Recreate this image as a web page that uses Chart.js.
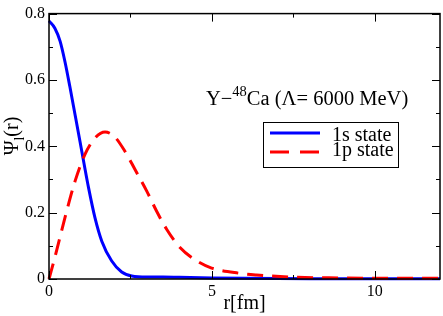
<!DOCTYPE html>
<html>
<head>
<meta charset="utf-8">
<script src="https://cdn.jsdelivr.net/npm/chart.js@4.4.0/dist/chart.umd.min.js"></script>
<style>
  html, body { margin: 0; padding: 0; background: #fff; }
  #wrap { width: 443px; height: 316px; }
</style>
</head>
<body>
<div id="wrap"><canvas id="chart" width="443" height="316"></canvas></div>
<script>
// radius values (fm) and wave functions
const r1s = [0, 0.18, 0.34, 0.49, 0.64, 0.80, 0.95, 1.08, 1.21, 1.41, 1.62, 1.92, 2.23, 2.54, 3.0, 3.5, 4.0, 5, 6, 8, 10, 12];
const psi1s = [0.778, 0.756, 0.717, 0.655, 0.58, 0.495, 0.415, 0.345, 0.277, 0.185, 0.114, 0.055, 0.021, 0.009, 0.006, 0.006, 0.005, 0.003, 0.002, 0.001, 0.001, 0.001];

const r1p = [0, 0.18, 0.49, 0.80, 1.10, 1.41, 1.72, 2.02, 2.33, 2.64, 3.0, 3.30, 3.61, 4.02, 4.53, 4.99, 5.86, 6.37, 7.39, 8.9, 10, 12];
const psi1p = [0, 0.065, 0.185, 0.295, 0.375, 0.425, 0.443, 0.428, 0.385, 0.330, 0.265, 0.205, 0.150, 0.095, 0.055, 0.033, 0.017, 0.012, 0.006, 0.003, 0.002, 0.002];

const xMajor = [0, 5, 10];
const xMinor = [2.5, 7.5];
const yMajor = [0, 0.2, 0.4, 0.6, 0.8];
const yMinor = [0.1, 0.3, 0.5, 0.7];

const SERIF = "'Liberation Serif', 'DejaVu Serif', serif";

function toPoints(xs, ys) {
  return xs.map((x, i) => ({ x: x, y: ys[i] }));
}

// frame, inward ticks, y title, annotation and legend
const decorations = {
  id: "decorations",
  afterDatasetsDraw(chart) {
    const ctx = chart.ctx;
    const a = chart.chartArea;
    const xs = chart.scales.x, ys = chart.scales.y;
    ctx.save();
    ctx.strokeStyle = "#000";
    ctx.lineWidth = 1.5;
    ctx.strokeRect(a.left, a.top, a.right - a.left, a.bottom - a.top);

    ctx.lineWidth = 1;
    ctx.beginPath();
    const tickX = (vals, len) => vals.forEach(v => {
      const px = Math.round(xs.getPixelForValue(v)) + 0.5;
      ctx.moveTo(px, a.bottom); ctx.lineTo(px, a.bottom - len);
      ctx.moveTo(px, a.top); ctx.lineTo(px, a.top + len);
    });
    const tickY = (vals, len) => vals.forEach(v => {
      const py = Math.round(ys.getPixelForValue(v)) + 0.5;
      ctx.moveTo(a.left, py); ctx.lineTo(a.left + len, py);
      ctx.moveTo(a.right, py); ctx.lineTo(a.right - len, py);
    });
    tickX(xMajor, 8); tickX(xMinor, 4);
    tickY(yMajor, 8); tickY(yMinor, 4);
    ctx.stroke();

    // y axis title: Psi_l(r)
    ctx.fillStyle = "#000";
    ctx.save();
    ctx.translate(18, 136);
    ctx.rotate(-Math.PI / 2);
    ctx.font = "20px " + SERIF;
    const w1 = ctx.measureText("\u03A8").width;
    ctx.font = "14px " + SERIF;
    const w2 = ctx.measureText("l").width;
    ctx.font = "20px " + SERIF;
    const w3 = ctx.measureText("(r)").width;
    let sx = -(w1 + w2 + w3) / 2;
    ctx.textBaseline = "alphabetic";
    ctx.fillText("\u03A8", sx, 0);
    ctx.font = "14px " + SERIF;
    ctx.fillText("l", sx + w1, 6);
    ctx.font = "20px " + SERIF;
    ctx.fillText("(r)", sx + w1 + w2, 0);
    ctx.restore();

    // annotation
    let tx = 206;
    const base = 105;
    ctx.font = "20.5px " + SERIF;
    ctx.fillText("Y\u2212", tx, base);
    tx += ctx.measureText("Y\u2212").width;
    ctx.font = "14.5px " + SERIF;
    ctx.fillText("48", tx, base - 9);
    tx += ctx.measureText("48").width;
    ctx.font = "20.5px " + SERIF;
    ctx.fillText("Ca (\u039B= 6000 MeV)", tx, base);

    // legend
    ctx.lineWidth = 1;
    ctx.strokeRect(263.5, 122.5, 135, 45);
    ctx.lineWidth = 3;
    ctx.strokeStyle = "#0000ff";
    ctx.beginPath(); ctx.moveTo(270, 133); ctx.lineTo(320, 133); ctx.stroke();
    ctx.strokeStyle = "#ff0000";
    ctx.setLineDash([19, 11]);
    ctx.beginPath(); ctx.moveTo(270, 152); ctx.lineTo(320, 152); ctx.stroke();
    ctx.setLineDash([]);
    ctx.font = "20px " + SERIF;
    ctx.fillText("1s state", 332, 141);
    ctx.fillText("1p state", 332, 156);
    ctx.restore();
  }
};

new Chart(document.getElementById("chart"), {
  type: "line",
  data: {
    datasets: [
      {
        label: "1p state",
        data: toPoints(r1p, psi1p),
        borderColor: "#ff0000",
        borderWidth: 3,
        borderDash: [16, 9],
        pointRadius: 0,
        cubicInterpolationMode: "monotone",
        fill: false
      },
      {
        label: "1s state",
        data: toPoints(r1s, psi1s),
        borderColor: "#0000ff",
        borderWidth: 3,
        pointRadius: 0,
        cubicInterpolationMode: "monotone",
        fill: false
      }
    ]
  },
  options: {
    responsive: false,
    animation: false,
    clip: false,
    layout: { padding: { top: 5, right: 3, left: 0, bottom: 0 } },
    plugins: { legend: { display: false }, tooltip: { enabled: false } },
    scales: {
      x: {
        type: "linear",
        min: 0, max: 12,
        afterFit: s => { s.height = 37; },
        afterBuildTicks: s => { s.ticks = xMajor.map(v => ({ value: v })); },
        grid: { display: false, drawTicks: false },
        border: { display: false },
        ticks: { color: "#000", padding: 3, font: { family: SERIF, size: 16 }, maxRotation: 0 },
        title: { display: true, text: "r[fm]", color: "#000", padding: 0, font: { family: SERIF, size: 20 } }
      },
      y: {
        type: "linear",
        min: 0, max: 0.8,
        afterFit: s => { s.width = 49; },
        afterBuildTicks: s => { s.ticks = yMajor.map(v => ({ value: v })); },
        grid: { display: false, drawTicks: false },
        border: { display: false },
        ticks: { color: "#000", padding: 4, font: { family: SERIF, size: 16 }, callback: v => String(+v.toFixed(1)) }
      }
    }
  },
  plugins: [decorations]
});
</script>
</body>
</html>
